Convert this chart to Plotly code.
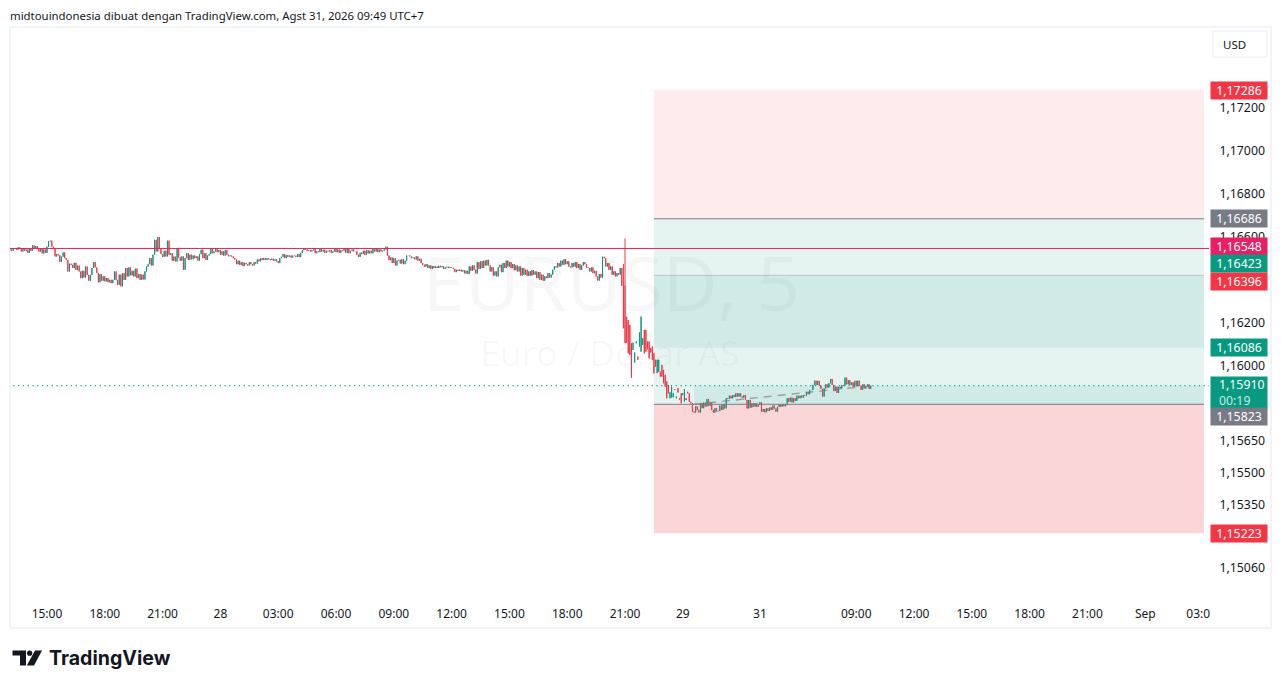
import plotly.graph_objects as go

# ---- data: closes in 1e-5 price units above 1.0 ----
closes_a = [16543,16537,16546,16550,16542,16553,16546,16534,16550,16537,16543,16528,16546,16537,16562,16546,16559,16546,16534,16546,16525,16543,16528,16556,16581,16584,16556]
closes_b = [16546,16511,16522,16516,16485,16510,16529,16503,16494,16441,16477,16472,16457,16481,16448,16468,
            16441,16410,16444,16413,16464,16425,16398,16425,16457,16485,16460,16434,
            16391,16428,16398,16418,16395,16410,16391,16402,16387,16402,16441,16402,
            16379,16426,16372,16433,16402,16457,16418,16460,16423,16444,16418,16454,16410,16429,16402,16426,16404,16441,
            16464,16475,16503,16469,16519,16588,16534,16601,16546,16522,16509,16537,16511,16584,16519]
closes_c = [16526,16491,16510,16488,16550,16506,16491,16511,16449,16503,16526,16495,
            16519,16498,16515,16503,16511,16491,16522,16542,16503,16526,16495,16515,16522,16546,16526,16534,16546,
            16531,16540,16519,16534,16515,16540,16519,16512,16515,16511,16503,16497,
            16475,16491,16472,16484,16466,16481,16475,16469,16484,16475,16469,16484,16478,16497,16488,16503,16494,
            16503,16495,16503,16498,16494,16500,16491,16497,16488,16480,16503,
            16509,16522,16503,16517,16509,16515,16506,16515,16514,16509,16522,16508,16528,16540,16546,16543,16537,16540,16534,16540,16546,16526,16534]
closes_d = [16531,16546,16534,16542,16528,16537,16534,16540,16528,
            16534,16546,16531,16543,16528,16540,16537,16546,16528,16550,16526,16537,16543,16534,
            16534,16519,16509,16528,16522,16537,16519,16540,16525,16537,16526,16546,
            16534,16546,16531,16543,16534,16537,16543,16556,
            16515,16494,16506,16480,16503,16469,16491,
            16495,16478,16498,16475,16491,16515,
            16515,16511,16503,16506,16497,16511,16491,16500,
            16480,16472,16464,16475,16457,16469,16453,
            16466,16457,16464,16457,16467,16461,16466,16453,16460,16463,16457,16461,16458]
closes_e = [16453,16438,16449,16444,16449,16441,16447,16432,16444,16429,
            16464,16444,16469,16449,16432,
            16484,16453,16488,16457,16491,16469,16495,
            16469,16441,16460,16422,16441,16418,16460,
            16472,16438,16480,16457,16491,
            16464,16484,16457,16475,16447,16469,16441,16464,
            16422,16457,16426,16449,16421,16441,16422,16447,16426,16441,
            16410,16438,16402,16426,16398,16418,16410,16433,16413,16426,
            16449,16464,16460,16480,16464,16491,16472,16498,16475,16488,16464,
            16460,16480,16464,16484,16457,16475,16449,16469,16484,16475,16460,
            16457,16441,16460,16433,16444,16418,16399,16429,16413,
            16509,16503,16464,16480,16449,16464,16426,16441,16418,16433,16426,16457,16374]
# drop after the spike: explicit opens and closes, bar by bar
drop_start = 383
drop_opens = [16375,16230,16215,16192,16107,16076,16017,16107,16045,16092,16068,16099,16169,16169,16115,16115,16084,16092,16060,16030,
              15968,15975,15975,16006,15983,15960,15929,15913,15851,15855,15856,15893,15851,15898,15851,15874,15866,15836,15851,15881]
drop_closes = [16177,16108,16110,16060,16053,15947,16110,16064,16115,16030,16157,16231,16130,16060,16068,16079,16037,16064,16030,15967,
               15998,16030,16030,15952,15952,15921,15905,15851,15874,15878,15905,15874,15890,15859,15878,15843,15828,15874,15893,15843]
closes_f = [15874,15835,15828,15789,15785,15813,15797,15785,15828,15805,15831,15813,15847,15816,15831,15797,15785,15805,15790]
closes_g = [15792,15817,15797,15823,15804,15851,15848,15863,15851,15866,15857,15874,15859,15874,15859,15854,15866,15843,
            15804,15843,15808,15828,15812,15828,15812,15823,15832,
            15789,15801,15786,15804,15792,15808,15797,15817,15804,15789,
            15812,15823,15812,15823,15814,15820,15851,
            15835,15854,15832,15851,15839,15863,15851,15863,15854,
            15866,15863,15879,15870,15890,15890,15913,15933,
            15913,15932,15910,15894,15859,15897,15916,15901,15921,
            15941,15913,15885,15905,15876,15904,15897,15913,15910,
            15947,15916,15935,15913,15925,15905,15932,15907,15933,15910,15891,15916,15897,15905,15916,15895,15910]
first_open = 16540
wick_bars = [382, 383]
wick_highs = [16476, 16595]
wick_lows = [16374, 16177]

time_ticks = [23,59,95,131,167,203,239,275,311,347,383,419,467,527,563,599,635,671,707,740]
time_labels = ["15:00","18:00","21:00","28","03:00","06:00","09:00","12:00","15:00","18:00","21:00","29","31","09:00","12:00","15:00","18:00","21:00","Sep","03:0"]
price_ticks = [1.172,1.170,1.168,1.166,1.162,1.160,1.1565,1.155,1.1535,1.1506]
price_labels = ["1,17200","1,17000","1,16800","1,16600","1,16200","1,16000","1,15650","1,15500","1,15350","1,15060"]

profit_top = 1.17286
entry_upper = 1.16686
pink_level = 1.16548
band_top = 1.16423
band_bottom = 1.16086
last_price = 1.15910
entry_lower = 1.15823
stop_bottom = 1.15223
box_start, box_end = 401, 743.6
live_start, live_end = 426, 537

RED, GREEN, GREY, PINK = "#f23645", "#089981", "#787b86", "#e91e63"

closes_pts = closes_a + closes_b + closes_c + closes_d + closes_e + drop_closes + closes_f + closes_g
opens_pts = [first_open] + closes_pts[:-1]
opens_pts[drop_start:drop_start + len(drop_opens)] = drop_opens
closes = [1 + v / 1e5 for v in closes_pts]
opens = [1 + v / 1e5 for v in opens_pts]
highs = [max(o, c) for o, c in zip(opens, closes)]
lows = [min(o, c) for o, c in zip(opens, closes)]
for b, h, l in zip(wick_bars, wick_highs, wick_lows):
    highs[b] = max(highs[b], 1 + h / 1e5)
    lows[b] = min(lows[b], 1 + l / 1e5)
bars = list(range(len(closes)))

W, H = 1281, 688
L, R, T, B = 10, 1209, 28, 600
def px(x): return (x - L) / (R - L)
def py(y): return (B - y) / (B - T)

fig = go.Figure()
# watermark
fig.add_trace(go.Scatter(x=[374.5], y=[1.16345], mode="text", text=["EURUSD, 5"], hoverinfo="skip", showlegend=False,
                         textfont=dict(family="Open Sans", size=75.5, color="rgba(19,23,34,0.035)")))
fig.add_trace(go.Scatter(x=[373.6], y=[1.16043], mode="text", text=["Euro / Dollar AS"], hoverinfo="skip", showlegend=False,
                         textfont=dict(family="Open Sans", size=35.5, color="rgba(19,23,34,0.035)")))
fig.add_trace(go.Candlestick(x=bars, open=opens, high=highs, low=lows, close=closes, whiskerwidth=0,
                             increasing=dict(line=dict(color=GREEN, width=1), fillcolor=GREEN),
                             decreasing=dict(line=dict(color=RED, width=1), fillcolor=RED),
                             hoverinfo="skip", showlegend=False))
# dashed position line
fig.add_trace(go.Scatter(x=[live_start, live_end], y=[entry_lower, last_price], mode="lines", hoverinfo="skip", showlegend=False,
                         line=dict(color="rgba(120,123,134,0.65)", width=1.5, dash="8px,6px")))

def rect(x0, x1, y0, y1, color):
    fig.add_shape(type="rect", x0=x0, x1=x1, y0=y0, y1=y1, fillcolor=color, line_width=0, layer="below")
def hline(x0, x1, y, color, width=1, dash="solid"):
    fig.add_shape(type="line", x0=x0, x1=x1, y0=y, y1=y, line=dict(color=color, width=width, dash=dash), layer="above")

rect(box_start, box_end, entry_upper, profit_top, "#feeced")
rect(box_start, box_end, entry_lower, entry_upper, "#e5f4f1")
rect(box_start, box_end, band_bottom, band_top, "#d0ebe6")
rect(live_start, box_end, entry_lower, last_price, "#d0ebe6")
rect(box_start, box_end, stop_bottom, entry_lower, "#fad6d9")
hline(box_start, box_end, entry_upper, GREY)
hline(box_start, box_end, entry_lower, GREY)
hline(box_start, box_end, band_top, "rgba(120,140,134,0.35)")
hline(-1, 747, pink_level, PINK)
hline(-1, 747, last_price, "#05a88d", 1.2, "1.2px,3.6px")

# outer frame
fig.add_shape(type="rect", xref="paper", yref="paper", x0=px(10), x1=px(1271), y0=py(628), y1=py(27),
              line=dict(color="#f0f3fa", width=2), layer="below")

# price labels
def label(y, text, color, h=17, size=12.3):
    fig.add_annotation(xref="paper", yref="paper", x=px(1210), y=py(y), xanchor="left", yanchor="middle",
                       text=text, showarrow=False, bgcolor=color, width=56, height=h, borderpad=0, align="center",
                       font=dict(family="Noto Sans", size=size, color="white"))
label(90, "1,17286", RED)
label(218, "1,16686", GREY)
label(246, "1,16548", PINK)
label(263, "1,16423", GREEN)
label(281, "1,16396", RED)
label(347, "1,16086", GREEN)
label(392.5, " ", GREEN, h=31)
fig.add_annotation(xref="paper", yref="paper", x=px(1218), y=py(392), xanchor="left", yanchor="middle", borderpad=0, align="left",
                   text="1,15910<br><span style='color:#c8ebe4'>00:19</span>", showarrow=False,
                   font=dict(family="Noto Sans", size=12.3, color="white"))
label(416, "1,15823", GREY)
label(533, "1,15223", RED)

# USD box
fig.add_shape(type="rect", xref="paper", yref="paper", x0=px(1213), x1=px(1267), y0=py(57), y1=py(31),
              line=dict(color="#e8eaf0", width=1), fillcolor="white", layer="above")
fig.add_annotation(xref="paper", yref="paper", x=px(1220.5), y=py(44), xanchor="left", yanchor="middle", text="USD",
                   showarrow=False, font=dict(family="Noto Sans", size=11.5, color="#131722"))
# header
fig.add_annotation(xref="paper", yref="paper", x=px(10), y=py(15), xanchor="left", yanchor="middle", borderpad=0, xshift=-1,
                   text="midtouindonesia dibuat dengan TradingView.com, Agst 31, 2026 09:49 UTC+7",
                   showarrow=False, font=dict(family="Noto Sans", size=11.4, color="#131722"))
# logo
def path(points): return "M" + " L".join(f"{px(x)},{py(y)}" for x, y in points) + " Z"
fig.add_shape(type="path", xref="paper", yref="paper", fillcolor="#131722", line_width=0,
              path=path([(12.5,650.5),(26,650.5),(26,665.5),(20,665.5),(20,655.5),(12.5,655.5)]))
fig.add_shape(type="path", xref="paper", yref="paper", fillcolor="#131722", line_width=0,
              path=path([(35,650.5),(42,650.5),(34,665.5),(26.8,665.5)]))
fig.add_shape(type="circle", xref="paper", yref="paper", fillcolor="#131722", line_width=0,
              x0=px(27), x1=px(32.3), y0=py(655.8), y1=py(650.5))
fig.add_annotation(xref="paper", yref="paper", x=px(46.5), y=py(658), xanchor="left", yanchor="middle", text="<b>TradingView</b>",
                   showarrow=False, font=dict(family="Inter", size=19.6, color="#131722"))

fig.update_layout(
    width=W, height=H, margin=dict(l=L, r=W - R, t=T, b=H - B, pad=0),
    paper_bgcolor="white", plot_bgcolor="rgba(0,0,0,0)", showlegend=False, boxgap=0.9,
    xaxis=dict(range=[-0.04, 746.7], rangeslider=dict(visible=False), tickmode="array", tickvals=time_ticks, ticktext=time_labels,
               showgrid=False, zeroline=False, showline=False, ticks="outside", ticklen=3, tickcolor="rgba(0,0,0,0)",
               tickfont=dict(family="Noto Sans", size=12, color="#131722"), tickangle=0),
    yaxis=dict(range=[1.149126, 1.175736], side="right", tickmode="array", tickvals=price_ticks, ticktext=price_labels,
               showgrid=False, zeroline=False, showline=False, ticks="outside", ticklen=7, tickcolor="rgba(0,0,0,0)",
               ticklabelshift=-1, tickfont=dict(family="Noto Sans", size=12.3, color="#131722")),
)
fig.write_html("out.html", config=dict(displayModeBar=False), post_script="document.body.style.margin='0';")
